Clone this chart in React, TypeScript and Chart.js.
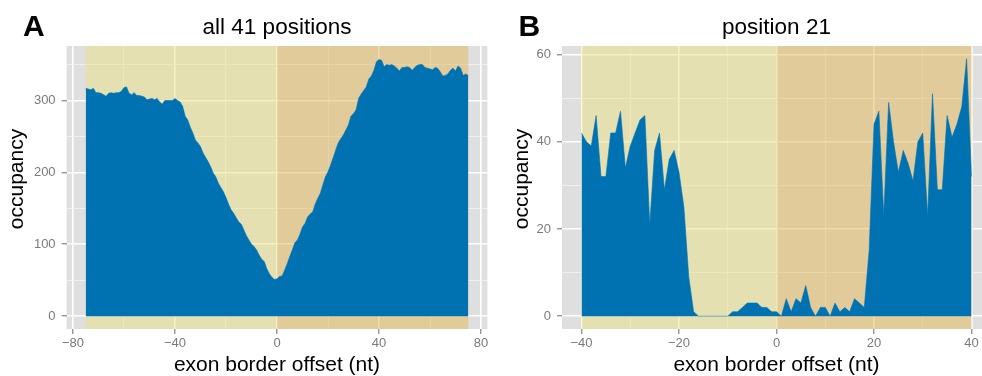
import React, { useEffect, useRef } from 'react';
import { Chart, registerables } from 'chart.js';

Chart.register(...registerables);

const FONT = "'Liberation Sans', Arial, Helvetica, sans-serif";
const BLUE = '#0072B2';
const PANEL_BG = '#DFDFDF';
const EXON_SHADE = 'rgba(234, 226, 134, 0.5)';
const INTRON_SHADE = 'rgba(228, 184, 86, 0.5)';

// ---------- Panel A: all 41 positions ----------
const offsetStartA = -75;
const occupancyA = [
  317, 316, 315, 317, 311, 311, 310, 308, 306, 310,
  311, 310, 311, 311, 313, 318, 319, 310, 308, 311,
  307, 307, 306, 305, 301, 302, 303, 301, 303, 298,
  295, 300, 300, 300, 300, 303, 300, 298,
  292, 278, 273, 263, 255, 245, 241, 236, 227, 221,
  215, 208, 199, 194, 185, 179, 173, 165, 156, 148,
  143, 137, 131, 128, 120, 112, 106, 100, 97, 92,
  85, 79, 76, 66, 59, 54, 51,
  52, 55, 56, 64, 73, 83, 92, 102, 106, 114,
  124, 129, 138, 142, 145, 156, 164, 171, 183, 194,
  201, 210, 220, 231, 241, 247, 252, 259, 266, 278,
  282, 287, 303, 309, 314, 319, 330, 334, 342, 354,
  357, 356, 347, 350, 349, 350, 348, 345, 341, 346,
  346, 347, 346, 342, 346, 349, 350, 350, 346, 345,
  344, 343, 346, 345, 340, 334, 335, 337, 342, 345,
  341, 348, 345, 335, 337, 335,
];
const xMajorA = [-80, -40, 0, 40, 80];
const xMinorA = [-60, -20, 20, 60];
const yMajorA = [0, 100, 200, 300];
const yMinorA = [50, 150, 250, 350];

// ---------- Panel B: position 21 ----------
const offsetStartB = -40;
const occupancyB = [
  42, 40, 39, 46, 32, 32, 42, 42, 47, 34,
  39, 42, 45, 46, 21, 38, 42, 29, 36, 38,
  33, 25, 9, 1, 0, 0, 0, 0, 0, 0,
  0, 1, 1, 2, 3, 3, 3, 2, 2, 1,
  1, 0, 4, 1, 4, 3, 7, 2, 0, 2,
  2, 0, 3, 1, 2, 1, 4, 3, 2, 15,
  44, 47, 23, 49, 40, 33, 38, 35, 31, 40,
  42, 23, 51, 29, 29, 46, 41, 44, 48, 59,
  32,
];
const xMajorB = [-40, -20, 0, 20, 40];
const xMinorB = [-30, -10, 10, 30];
const yMajorB = [0, 20, 40, 60];
const yMinorB = [10, 30, 50];

const X_TITLE = 'exon border offset (nt)';
const Y_TITLE = 'occupancy';

const fmt = (v: number) => (v < 0 ? '\u2212' + Math.abs(v) : String(v));

const decorPlugin = {
  id: 'panelDecor',
  beforeDraw(chart: any, _args: any, o: any) {
    const { ctx, chartArea: a } = chart;
    ctx.save();
    ctx.fillStyle = o.panelBg;
    ctx.fillRect(a.left, a.top, a.right - a.left, a.bottom - a.top);
    ctx.restore();
  },
  beforeDatasetsDraw(chart: any, _args: any, o: any) {
    const { ctx, chartArea: a } = chart;
    const x = chart.scales.x;
    ctx.save();
    for (const s of o.shades) {
      const x0 = x.getPixelForValue(s.from);
      const x1 = x.getPixelForValue(s.to);
      ctx.fillStyle = s.color;
      ctx.fillRect(x0, a.top, x1 - x0, a.bottom - a.top);
    }
    ctx.restore();
  },
  afterDraw(chart: any, _args: any, o: any) {
    const { ctx, chartArea: a } = chart;
    ctx.save();
    ctx.fillStyle = '#000';
    ctx.textBaseline = 'alphabetic';
    ctx.textAlign = 'left';
    ctx.font = `bold 30px ${FONT}`;
    ctx.fillText(o.letter, o.letterX, 36);
    ctx.textAlign = 'center';
    ctx.font = `22.5px ${FONT}`;
    ctx.fillText(o.title, (a.left + a.right) / 2, 34);
    ctx.translate(o.yTitleX, (a.top + a.bottom) / 2 - 8.5);
    ctx.rotate(-Math.PI / 2);
    ctx.font = `21px ${FONT}`;
    ctx.fillText(o.yTitle, 0, 0);
    ctx.restore();
  },
};

type PanelCfg = {
  offsetStart: number;
  values: number[];
  xMin: number; xMax: number; yMin: number; yMax: number;
  xMajor: number[]; xMinor: number[]; yMajor: number[]; yMinor: number[];
  yAxisWidth: number; padRight: number;
  letter: string; letterX: number; title: string; yTitleX: number;
};

function scaleOpts(min: number, max: number, major: number[], minor: number[], isX: boolean, size: number) {
  const all = [...major, ...minor].sort((p, q) => p - q);
  const isMajor = (v: number) => major.includes(v);
  return {
    type: 'linear',
    min, max,
    afterBuildTicks: (s: any) => { s.ticks = all.map((v) => ({ value: v })); },
    afterFit: (s: any) => { if (isX) s.height = size; else s.width = size; },
    border: { display: false },
    grid: {
      color: (c: any) => (c.tick && isMajor(c.tick.value) ? '#FFFFFF' : '#F3F3F3'),
      lineWidth: (c: any) => (c.tick && isMajor(c.tick.value) ? 1.6 : 0.8),
      tickColor: (c: any) => (c.tick && isMajor(c.tick.value) ? '#6A6A6A' : 'rgba(0,0,0,0)'),
      tickWidth: 1,
      tickLength: 5,
      drawTicks: true,
    },
    ticks: {
      autoSkip: false,
      maxRotation: 0,
      padding: isX ? 2 : 6,
      color: '#7A7A7A',
      font: { size: 13, family: FONT, lineHeight: 1.2 },
      callback: (v: any) => (isMajor(Number(v)) ? fmt(Number(v)) : ''),
    },
    title: isX
      ? { display: true, text: X_TITLE, color: '#000', font: { size: 21, family: FONT, lineHeight: 1 }, padding: 0 }
      : { display: false },
  };
}

function buildChart(canvas: HTMLCanvasElement, p: PanelCfg) {
  const points = p.values.map((y, i) => ({ x: p.offsetStart + i, y }));
  const lastX = p.offsetStart + p.values.length - 1;
  return new Chart(canvas, {
    type: 'line',
    data: {
      datasets: [{
        data: points,
        fill: 'origin',
        backgroundColor: BLUE,
        borderColor: BLUE,
        borderWidth: 0.6,
        pointRadius: 0,
        tension: 0,
      }],
    },
    options: {
      animation: false,
      responsive: false,
      devicePixelRatio: 1,
      layout: { padding: { top: 46, left: 0, right: p.padRight, bottom: 0 } },
      plugins: {
        legend: { display: false },
        tooltip: { enabled: false },
        panelDecor: {
          panelBg: PANEL_BG,
          shades: [
            { from: p.offsetStart, to: 0, color: EXON_SHADE },
            { from: 0, to: lastX, color: INTRON_SHADE },
          ],
          letter: p.letter, letterX: p.letterX, title: p.title, yTitle: Y_TITLE, yTitleX: p.yTitleX,
        },
      } as any,
      scales: {
        x: scaleOpts(p.xMin, p.xMax, p.xMajor, p.xMinor, true, 47) as any,
        y: scaleOpts(p.yMin, p.yMax, p.yMajor, p.yMinor, false, p.yAxisWidth) as any,
      },
    },
    plugins: [decorPlugin as any],
  });
}

export default function App() {
  const refA = useRef<HTMLCanvasElement>(null);
  const refB = useRef<HTMLCanvasElement>(null);

  useEffect(() => {
    Chart.defaults.font.family = FONT;
    const a = buildChart(refA.current!, {
      offsetStart: offsetStartA, values: occupancyA,
      xMin: -82.5, xMax: 82.5, yMin: -17.9, yMax: 375.9,
      xMajor: xMajorA, xMinor: xMinorA, yMajor: yMajorA, yMinor: yMinorA,
      yAxisWidth: 66.6, padRight: 3.6,
      letter: 'A', letterX: 23, title: 'all 41 positions', yTitleX: 22.6,
    });
    const b = buildChart(refB.current!, {
      offsetStart: offsetStartB, values: occupancyB,
      xMin: -44, xMax: 44, yMin: -2.95, yMax: 61.95,
      xMajor: xMajorB, xMinor: xMinorB, yMajor: yMajorB, yMinor: yMinorB,
      yAxisWidth: 71, padRight: 0,
      letter: 'B', letterX: 27.5, title: 'position 21', yTitleX: 36.6,
    });
    return () => { a.destroy(); b.destroy(); };
  }, []);

  return (
    <div style={{ position: 'fixed', left: 0, top: 0, width: 982, height: 376, overflow: 'hidden', background: '#fff' }}>
      <canvas ref={refA} width={491} height={376}
        style={{ position: 'absolute', left: 0, top: 0, width: 491, height: 376 }} />
      <canvas ref={refB} width={500} height={376}
        style={{ position: 'absolute', left: 491, top: 0, width: 500, height: 376 }} />
    </div>
  );
}
